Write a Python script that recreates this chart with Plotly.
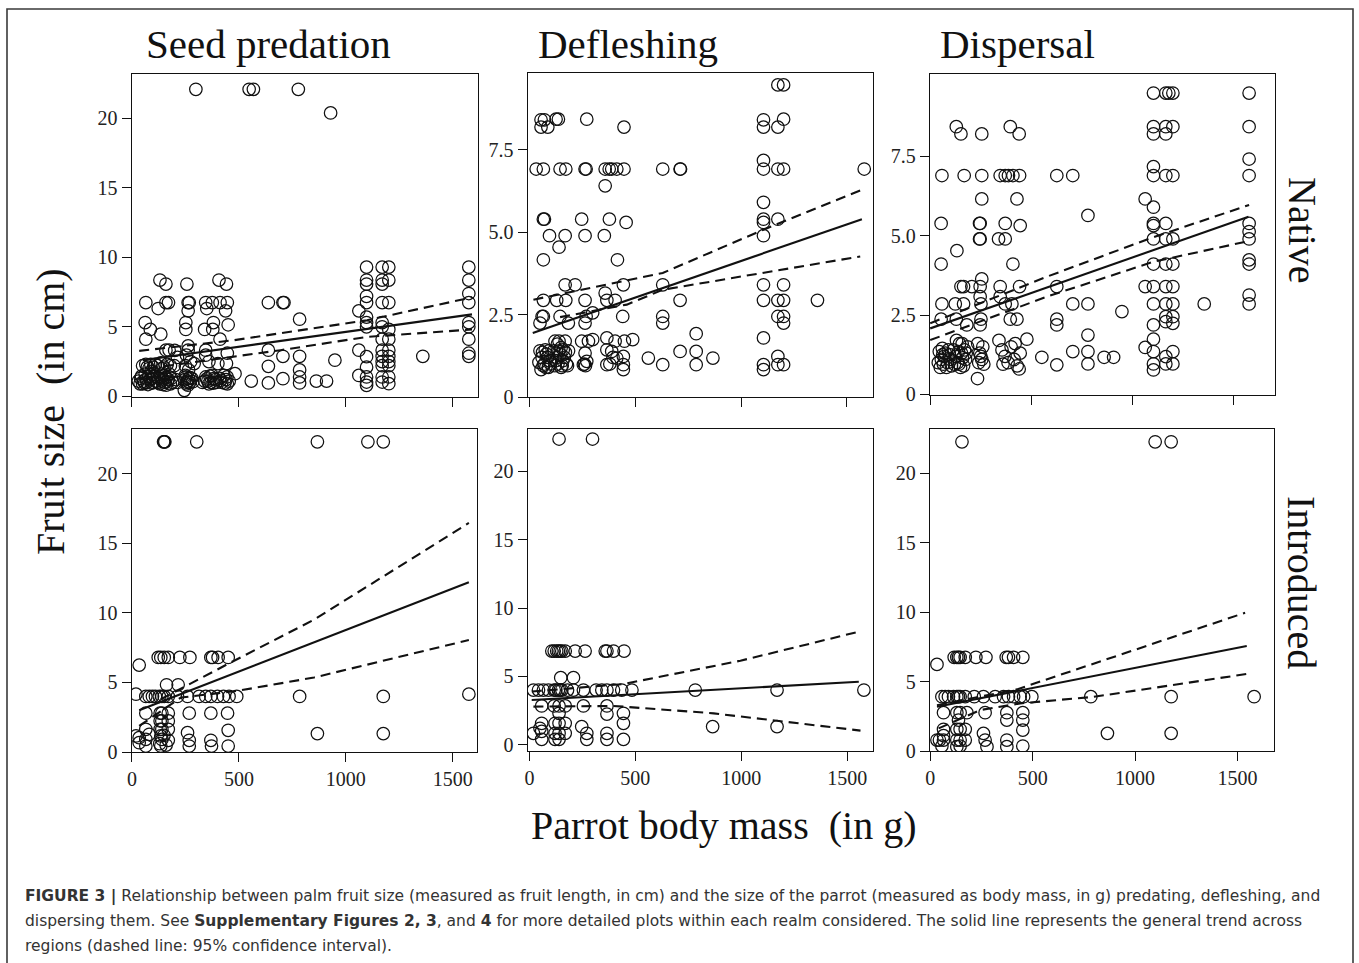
import plotly.graph_objects as go

W, H = 1359, 963

# ---------------- data ----------------
ticks_x = [0, 500, 1000, 1500]
ticks_y_big = [0, 5, 10, 15, 20]
ticks_y_small = [0, 2.5, 5, 7.5]
ticks_y_small_text = ["0", "2.5", "5.0", "7.5"]

col_titles = ["Seed predation", "Defleshing", "Dispersal"]
row_titles = ["Native", "Introduced"]

# Native - seed predation
nat_seed = [
    (299, 22.1), (548, 22.1), (568, 22.1), (778, 22.1), (929, 20.4),
    (65, 6.75), (62, 5.31), (86, 4.81), (65, 4.11),
    (50, 2.2), (65, 2.3), (80, 2.0), (40, 1.3), (55, 1.1), (70, 1.0), (85, 1.2), (50, 0.9), (75, 0.85),
    (95, 1.3), (100, 1.0), (62, 1.6), (90, 1.8), (110, 2.3),
    (30, 1.1), (45, 1.45), (60, 0.95), (78, 1.4), (92, 0.95), (105, 1.45), (115, 1.1), (38, 0.9), (68, 1.25),
    (88, 2.3), (100, 2.1), (72, 2.1),
    (135, 4.47), (123, 6.32), (131, 8.37), (159, 8.08), (159, 6.75), (171, 6.75), (159, 3.32), (174, 3.32),
    (135, 2.4), (150, 2.1), (165, 2.3), (125, 1.3), (140, 1.1), (155, 1.0), (170, 1.2), (180, 0.9), (130, 0.9),
    (150, 1.5), (175, 1.6), (160, 0.8),
    (120, 1.0), (135, 1.4), (145, 0.85), (160, 1.35), (165, 1.05), (185, 1.3), (190, 1.0), (145, 1.25),
    (120, 2.2), (140, 2.0), (180, 2.2),
    (198, 2.2), (205, 1.2), (213, 1.0), (200, 3.3), (213, 2.8),
    (257, 8.08), (263, 6.75), (268, 6.75), (263, 6.15), (252, 5.31), (252, 4.81), (263, 3.63), (263, 3.32),
    (255, 2.96), (291, 2.36), (250, 2.2), (265, 1.9), (252, 1.39), (260, 1.1), (270, 1.0), (255, 0.9),
    (265, 1.27), (245, 0.43), (280, 1.3), (275, 2.5),
    (248, 1.2), (258, 1.0), (272, 1.35), (285, 1.05), (262, 0.8), (250, 1.5),
    (345, 6.75), (376, 6.75), (350, 6.32), (381, 5.31), (378, 4.81), (340, 4.81), (345, 3.32), (345, 2.96),
    (360, 2.5), (345, 1.39), (355, 1.1), (370, 1.0), (385, 1.3), (360, 0.9), (375, 1.5), (390, 1.2), (330, 1.0),
    (350, 1.25), (365, 1.45), (380, 0.95), (395, 1.0), (340, 1.1),
    (407, 8.37), (442, 8.08), (412, 6.75), (446, 6.75), (438, 6.15), (450, 5.15), (412, 4.11), (446, 3.1),
    (442, 2.36), (402, 2.36), (482, 1.63), (410, 1.3), (420, 1.0), (440, 1.2), (446, 0.9), (430, 1.5), (455, 1.1),
    (415, 1.15), (435, 0.95), (445, 1.4),
    (558, 1.1), (638, 6.75), (638, 3.32), (638, 2.16), (638, 0.96), (706, 6.75), (711, 6.75), (706, 2.88),
    (706, 1.27), (784, 5.55), (784, 2.88), (784, 1.9), (784, 1.39), (784, 0.96), (862, 1.1), (910, 1.1), (949, 2.6),
    (1061, 6.15), (1097, 9.3), (1097, 8.37), (1097, 8.08), (1097, 7.2), (1097, 6.75), (1097, 5.7), (1097, 5.31),
    (1097, 5.0), (1061, 3.32), (1097, 2.85), (1097, 2.1), (1097, 1.39), (1061, 1.5), (1097, 1.03), (1097, 0.79),
    (1170, 9.3), (1201, 9.3), (1170, 8.37), (1201, 8.37), (1170, 8.08), (1170, 6.75), (1201, 6.75), (1170, 5.31),
    (1170, 5.0), (1201, 4.81), (1170, 4.11), (1201, 4.11), (1170, 3.32), (1201, 3.32), (1170, 2.88), (1201, 2.88),
    (1170, 2.5), (1201, 2.5), (1170, 2.2), (1201, 2.2), (1170, 1.39), (1201, 1.39), (1170, 1.03), (1201, 0.91),
    (1360, 2.88),
    (1575, 9.3), (1575, 8.37), (1575, 7.4), (1575, 6.75), (1575, 5.31), (1575, 5.0), (1575, 4.11), (1575, 3.1), (1575, 2.88),
]
nat_seed_fit_x, nat_seed_fit_y = [50, 1590], [2.6, 5.9]
nat_seed_up_x, nat_seed_up_y = [34, 478, 1100, 1590], [3.27, 4.04, 5.48, 7.12]
nat_seed_lo_x, nat_seed_lo_y = [73, 695, 1100, 1590], [2.0, 3.32, 4.28, 4.81]

# Native - defleshing
nat_defl = [
    (55, 8.4), (71, 8.4), (55, 8.18), (87, 8.18), (32, 6.91), (66, 6.91), (66, 5.39), (71, 5.39), (66, 4.16),
    (66, 2.93), (60, 2.44), (66, 2.44), (50, 2.24),
    (50, 1.4), (60, 1.2), (70, 1.0), (80, 1.3), (90, 0.9), (55, 0.83), (75, 1.43), (95, 1.1), (65, 0.95), (85, 1.2),
    (45, 1.05), (62, 1.35), (78, 0.9), (92, 1.4), (100, 1.0),
    (126, 8.42), (137, 8.42), (95, 4.89), (140, 4.54), (145, 6.91), (172, 6.91), (169, 4.89), (169, 3.40),
    (216, 3.40), (129, 2.93), (172, 2.93), (145, 2.44), (184, 2.24), (169, 1.69), (121, 1.69), (140, 1.69), (150, 1.5),
    (115, 1.4), (125, 1.1), (135, 1.0), (145, 1.3), (155, 0.95), (165, 1.2), (175, 1.0), (185, 1.4), (130, 1.2),
    (160, 1.43), (150, 0.9),
    (120, 0.95), (140, 1.4), (158, 1.1), (170, 1.35), (180, 0.95), (132, 1.6),
    (271, 8.42), (263, 6.91), (268, 6.91), (247, 5.39), (263, 4.89), (263, 2.93), (268, 2.44), (263, 2.24),
    (299, 2.55), (247, 1.69), (279, 1.69), (299, 1.74), (263, 1.33), (271, 1.08), (255, 0.98), (260, 1.0), (265, 0.95),
    (358, 6.40), (358, 6.91), (377, 6.91), (389, 6.91), (413, 6.91), (378, 5.39), (354, 4.89), (416, 4.16),
    (358, 3.15), (366, 2.93), (405, 2.93), (366, 1.79), (405, 1.69), (366, 1.43), (389, 1.38), (413, 1.18),
    (366, 0.98), (395, 1.2), (380, 1.0),
    (447, 8.18), (447, 6.91), (457, 5.29), (444, 3.40), (441, 2.44), (449, 1.69), (488, 1.74), (444, 1.23),
    (444, 0.98), (444, 0.83),
    (562, 1.18), (630, 6.91), (630, 3.40), (630, 2.44), (630, 2.24), (630, 0.98), (712, 6.91), (714, 6.91),
    (712, 2.93), (712, 1.38), (788, 1.92), (788, 1.38), (788, 0.98), (867, 1.18),
    (1106, 8.40), (1106, 8.18), (1106, 7.17), (1106, 6.91), (1106, 5.9), (1106, 5.39), (1106, 5.29), (1106, 4.89),
    (1106, 3.40), (1106, 2.93), (1106, 1.79), (1106, 0.98), (1106, 0.83),
    (1174, 9.46), (1201, 9.46), (1201, 8.42), (1174, 8.18), (1174, 6.91), (1201, 6.91), (1174, 5.39), (1201, 3.40),
    (1174, 2.93), (1201, 2.93), (1174, 2.44), (1201, 2.44), (1201, 2.24), (1174, 1.23), (1174, 0.98), (1201, 0.98),
    (1361, 2.93), (1582, 6.91),
]
nat_defl_fit_x, nat_defl_fit_y = [16, 1571], [1.94, 5.39]
nat_defl_up_x, nat_defl_up_y = [19, 240, 630, 1106, 1571], [2.95, 3.25, 3.76, 5.07, 6.28]
nat_defl_lo_x, nat_defl_lo_y = [145, 460, 630, 1106, 1563], [2.42, 2.80, 3.25, 3.76, 4.26]

# Native - dispersal
nat_disp = [
    (58, 6.90), (54, 5.39), (54, 4.11), (58, 2.85), (54, 2.37),
    (45, 1.35), (55, 1.1), (65, 0.95), (75, 1.3), (85, 1.0), (50, 0.85), (70, 1.2), (90, 1.4), (100, 1.1), (60, 1.45),
    (40, 1.0), (62, 1.25), (80, 0.85), (95, 1.25), (105, 0.9),
    (129, 8.44), (152, 8.21), (168, 6.90), (132, 4.53), (152, 3.40), (165, 3.40), (124, 2.85), (165, 2.85),
    (129, 2.37), (181, 2.19),
    (115, 1.4), (125, 1.2), (135, 1.0), (145, 1.6), (155, 1.3), (165, 0.9), (175, 1.1), (185, 1.5), (130, 1.7),
    (150, 0.85), (170, 1.4), (120, 0.95),
    (140, 1.35), (160, 1.15), (178, 1.3), (142, 0.95), (158, 1.6),
    (255, 8.21), (255, 6.90), (255, 6.16), (244, 5.39), (247, 5.39), (244, 4.90), (247, 4.90), (255, 3.64),
    (247, 3.40), (206, 3.40), (247, 3.08), (251, 2.85), (251, 2.37), (247, 2.19), (234, 0.50),
    (235, 1.6), (245, 1.3), (255, 1.1), (265, 0.95), (240, 1.0), (260, 1.5), (250, 1.2),
    (396, 8.44), (440, 8.21), (346, 6.90), (371, 6.90), (387, 6.90), (409, 6.90), (442, 6.90), (429, 6.16),
    (371, 5.39), (445, 5.32), (338, 4.90), (371, 4.90), (409, 4.11), (346, 3.40), (442, 3.40), (346, 3.08),
    (371, 2.85), (404, 2.85), (396, 2.37), (429, 2.37), (478, 1.74),
    (340, 1.7), (355, 1.4), (370, 1.2), (385, 1.0), (400, 1.5), (415, 1.1), (430, 0.9), (445, 1.3), (360, 0.95),
    (420, 1.6), (440, 0.8),
    (552, 1.17), (626, 6.90), (705, 6.90), (626, 3.40), (626, 2.37), (626, 2.19), (626, 0.93), (780, 5.64),
    (705, 2.85), (780, 2.85), (705, 1.35), (780, 1.87), (780, 1.35), (780, 0.96), (860, 1.17), (907, 1.17), (948, 2.61),
    (1104, 9.5), (1104, 8.44), (1104, 8.21), (1104, 7.18), (1104, 6.90), (1063, 6.16), (1104, 5.9), (1104, 5.39),
    (1104, 5.32), (1104, 4.90), (1104, 4.11), (1063, 3.40), (1104, 3.40), (1104, 2.85), (1104, 2.19), (1104, 1.74),
    (1063, 1.48), (1104, 1.35), (1104, 0.96), (1104, 0.77),
    (1165, 9.5), (1200, 9.5), (1180, 9.5), (1165, 8.44), (1200, 8.44), (1165, 8.21), (1165, 6.90), (1200, 6.90),
    (1165, 5.39), (1165, 4.90), (1200, 4.90), (1165, 4.11), (1200, 4.11), (1165, 3.40), (1200, 3.40), (1165, 2.85),
    (1200, 2.85), (1165, 2.45), (1200, 2.45), (1165, 2.29), (1200, 2.24), (1165, 1.19), (1200, 1.35), (1165, 0.96),
    (1200, 0.96),
    (1355, 2.85),
    (1577, 9.5), (1577, 8.44), (1577, 7.42), (1577, 6.90), (1577, 5.39), (1577, 5.13), (1577, 4.90), (1577, 4.24),
    (1577, 4.11), (1577, 3.13), (1577, 2.85),
]
nat_disp_fit_x, nat_disp_fit_y = [0, 1574], [2.08, 5.60]
nat_disp_up_x, nat_disp_up_y = [0, 577, 1088, 1577], [2.24, 3.71, 4.92, 5.97]
nat_disp_lo_x, nat_disp_lo_y = [0, 577, 1104, 1566], [1.71, 3.08, 4.18, 4.82]

# Introduced - seed predation
int_seed = [
    (148, 22.28), (151, 22.28), (154, 22.28), (303, 22.28), (867, 22.28), (1103, 22.28), (1175, 22.28),
    (34, 6.24), (123, 6.79), (135, 6.79), (151, 6.79), (170, 6.79), (224, 6.79), (271, 6.79), (369, 6.79),
    (377, 6.79), (403, 6.79), (450, 6.79),
    (162, 4.83), (216, 4.83),
    (19, 4.15), (65, 3.99), (81, 3.99), (96, 3.99), (128, 3.99), (151, 3.99), (170, 3.99), (213, 3.99), (260, 3.99),
    (314, 3.99), (345, 3.99), (369, 3.99), (400, 3.99), (428, 3.99), (454, 3.99), (490, 3.99), (140, 3.99), (110, 3.99),
    (784, 3.99), (1175, 3.99), (1575, 4.15),
    (65, 2.79), (132, 2.79), (170, 2.79), (268, 2.79), (369, 2.79), (447, 2.79), (140, 2.79),
    (132, 2.23), (170, 2.23), (140, 2.23),
    (132, 1.63), (170, 1.63), (65, 1.63), (450, 1.56), (140, 1.63),
    (260, 1.39),
    (135, 1.15), (170, 0.84), (34, 1.03), (65, 0.91), (81, 1.27), (19, 1.15), (34, 0.67), (140, 0.9), (150, 1.2),
    (135, 0.43), (268, 0.84), (268, 0.43), (369, 0.84), (372, 0.43), (450, 0.43), (65, 0.43), (130, 0.6), (160, 0.5),
    (867, 1.32), (1175, 1.32),
]
int_seed_fit_x, int_seed_fit_y = [34, 1575], [3.0, 12.2]
int_seed_up_x, int_seed_up_y = [135, 447, 851, 1575], [3.79, 6.31, 9.5, 16.45]
int_seed_lo_x, int_seed_lo_y = [34, 229, 493, 851, 1575], [1.87, 3.91, 4.39, 5.35, 8.04]

# Introduced - defleshing
int_defl = [
    (140, 22.34), (298, 22.34),
    (106, 6.86), (117, 6.86), (129, 6.86), (145, 6.86), (169, 6.86), (216, 6.86), (263, 6.86), (358, 6.86),
    (366, 6.86), (397, 6.86), (447, 6.86), (137, 6.86), (153, 6.86),
    (148, 4.91), (208, 4.91),
    (19, 4.01), (43, 4.01), (66, 4.01), (90, 4.01), (117, 4.01), (137, 4.01), (153, 4.01), (180, 4.01), (208, 4.01),
    (255, 4.01), (315, 4.01), (342, 4.01), (366, 4.01), (397, 4.01), (436, 4.01), (484, 4.01), (125, 4.01), (145, 4.01),
    (783, 4.01), (1169, 4.01), (1579, 4.01),
    (58, 2.85), (117, 2.85), (169, 2.85), (255, 2.85), (366, 2.85), (140, 2.85),
    (140, 2.31), (366, 2.26), (444, 2.31),
    (58, 1.58), (121, 1.58), (169, 1.58), (444, 1.58), (140, 1.58),
    (247, 1.34), (50, 1.22),
    (19, 0.85), (121, 0.85), (169, 0.85), (271, 0.85), (366, 0.85), (140, 0.85), (58, 1.0),
    (58, 0.41), (121, 0.41), (271, 0.41), (366, 0.41), (444, 0.41), (140, 0.41),
    (865, 1.34), (1169, 1.34),
]
int_defl_fit_x, int_defl_fit_y = [11, 1555], [3.28, 4.62]
int_defl_up_x, int_defl_up_y = [11, 444, 996, 1555], [3.9, 4.45, 6.15, 8.27]
int_defl_lo_x, int_defl_lo_y = [19, 397, 870, 1563], [2.8, 2.85, 2.31, 1.05]

# Introduced - dispersal
int_disp = [
    (155, 22.28), (1098, 22.28), (1176, 22.28),
    (33, 6.24), (117, 6.75), (130, 6.75), (146, 6.75), (171, 6.75), (223, 6.75), (272, 6.75), (371, 6.75),
    (382, 6.75), (407, 6.75), (452, 6.75), (138, 6.75),
    (57, 3.91), (73, 3.91), (89, 3.91), (114, 3.91), (130, 3.91), (146, 3.91), (171, 3.91), (215, 3.91), (260, 3.91),
    (317, 3.91), (358, 3.91), (382, 3.91), (407, 3.91), (439, 3.91), (456, 3.91), (496, 3.91), (138, 3.91),
    (784, 3.91), (1176, 3.91), (1581, 3.91),
    (65, 2.76), (130, 2.76), (179, 2.76), (268, 2.76), (374, 2.76), (452, 2.76), (146, 2.76),
    (374, 2.23), (452, 2.23), (138, 2.23),
    (65, 1.56), (130, 1.56), (171, 1.56), (452, 1.51), (146, 1.56),
    (260, 1.27), (65, 1.1),
    (33, 0.79), (65, 0.79), (130, 0.79), (171, 0.79), (268, 0.79), (374, 0.79), (45, 0.79), (146, 0.79),
    (57, 0.36), (130, 0.31), (277, 0.31), (374, 0.31), (452, 0.36), (146, 0.36),
    (865, 1.27), (1176, 1.27),
]
int_disp_fit_x, int_disp_fit_y = [33, 1545], [3.19, 7.56]
int_disp_up_x, int_disp_up_y = [33, 423, 797, 1537], [3.3, 4.44, 6.29, 9.96]
int_disp_lo_x, int_disp_lo_y = [41, 244, 439, 797, 1545], [1.63, 2.95, 3.43, 3.9, 5.55]

caption_lines = [
    "<b>FIGURE 3 |</b> Relationship between palm fruit size (measured as fruit length, in cm) and the size of the parrot (measured as body mass, in g) predating, defleshing, and",
    "dispersing them. See <b>Supplementary Figures 2, 3</b>, and <b>4</b> for more detailed plots within each realm considered. The solid line represents the general trend across",
    "regions (dashed line: 95% confidence interval).",
]

# ---------------- layout geometry (pixels) ----------------
frames = [  # x0, x1, y0(top), y1(bottom)
    (131.7, 478, 74, 397), (527.7, 872.7, 73, 397), (930, 1275, 74, 395),
    (131.7, 477, 429, 752), (527.7, 873, 429, 751), (930, 1274, 429, 751),
]
xranges = [[-1, 1618], [-8, 1622], [-1, 1705], [-1, 1613], [-8, 1622], [-1, 1678]]
yranges = [[-0.05, 23.2], [0.0, 9.82], [-0.02, 10.1], [0, 23.2], [-0.44, 23.07], [0, 23.2]]

panels = [
    (nat_seed, (nat_seed_fit_x, nat_seed_fit_y), (nat_seed_up_x, nat_seed_up_y), (nat_seed_lo_x, nat_seed_lo_y)),
    (nat_defl, (nat_defl_fit_x, nat_defl_fit_y), (nat_defl_up_x, nat_defl_up_y), (nat_defl_lo_x, nat_defl_lo_y)),
    (nat_disp, (nat_disp_fit_x, nat_disp_fit_y), (nat_disp_up_x, nat_disp_up_y), (nat_disp_lo_x, nat_disp_lo_y)),
    (int_seed, (int_seed_fit_x, int_seed_fit_y), (int_seed_up_x, int_seed_up_y), (int_seed_lo_x, int_seed_lo_y)),
    (int_defl, (int_defl_fit_x, int_defl_fit_y), (int_defl_up_x, int_defl_up_y), (int_defl_lo_x, int_defl_lo_y)),
    (int_disp, (int_disp_fit_x, int_disp_fit_y), (int_disp_up_x, int_disp_up_y), (int_disp_lo_x, int_disp_lo_y)),
]


def px(x):
    return x / W


def py(y):
    return 1 - y / H


SERIF = "Liberation Serif, Times New Roman, serif"
INK = "#111111"

fig = go.Figure()
layout = {}
for i, (pts, fit, up, lo) in enumerate(panels):
    n = i + 1
    xa = "x" if n == 1 else f"x{n}"
    ya = "y" if n == 1 else f"y{n}"
    fig.add_trace(go.Scatter(
        x=[p[0] for p in pts], y=[p[1] for p in pts], mode="markers", xaxis=xa, yaxis=ya,
        marker=dict(symbol="circle-open", size=12.5, color=INK, line=dict(width=1.25)),
        showlegend=False, hoverinfo="skip"))
    for (lx, ly), dash in ((fit, "solid"), (up, "10px,6px"), (lo, "10px,6px")):
        fig.add_trace(go.Scatter(
            x=lx, y=ly, mode="lines", xaxis=xa, yaxis=ya,
            line=dict(color=INK, width=2.1, dash=dash), showlegend=False, hoverinfo="skip"))
    x0, x1, t, b = frames[i]
    axcommon = dict(showline=True, mirror=True, linecolor=INK, linewidth=1.3, ticks="outside",
                    ticklen=9, tickwidth=1.2, tickcolor=INK, showgrid=False, zeroline=False,
                    automargin=False, tickfont=dict(family=SERIF, size=20, color="#222222"))
    layout["xaxis" if n == 1 else f"xaxis{n}"] = dict(
        domain=[px(x0), px(x1)], range=xranges[i], anchor=ya, tickvals=ticks_x,
        showticklabels=(n >= 4), **axcommon)
    if n in (2, 3):
        ytk = dict(tickvals=ticks_y_small, ticktext=ticks_y_small_text)
    else:
        ytk = dict(tickvals=ticks_y_big)
    layout["yaxis" if n == 1 else f"yaxis{n}"] = dict(
        domain=[py(b), py(t)], range=yranges[i], anchor=xa, **ytk, **axcommon)

ann = []
for name, cx in zip(col_titles, [268, 628, 1017]):
    ann.append(dict(text=name, x=px(cx), y=py(44), xref="paper", yref="paper", showarrow=False,
                    xanchor="center", yanchor="middle", font=dict(family=SERIF, size=41, color=INK)))
for name, cy in zip(row_titles, [230, 582]):
    ann.append(dict(text=name, x=px(1302), y=py(cy), xref="paper", yref="paper", showarrow=False,
                    textangle=90, xanchor="center", yanchor="middle",
                    font=dict(family=SERIF, size=40, color=INK)))
ann.append(dict(text="Fruit size\u00a0\u00a0(in cm)", x=px(50), y=py(412), xref="paper", yref="paper",
                showarrow=False, textangle=-90, xanchor="center", yanchor="middle",
                font=dict(family=SERIF, size=40, color=INK)))
ann.append(dict(text="Parrot body mass\u00a0\u00a0(in g)", x=px(724), y=py(825), xref="paper", yref="paper",
                showarrow=False, xanchor="center", yanchor="middle",
                font=dict(family=SERIF, size=40, color=INK)))
for line, cy in zip(caption_lines, [896, 921, 946]):
    ann.append(dict(text=line, x=px(23), y=py(cy), xref="paper", yref="paper", showarrow=False,
                    xanchor="left", yanchor="middle",
                    font=dict(family="DejaVu Sans, sans-serif", size=15.5, color="#333333")))

shapes = [dict(type="rect", xref="paper", yref="paper", x0=px(7), x1=px(1353), y0=py(990), y1=py(9),
               line=dict(color="#3a3a3a", width=1.6), fillcolor="rgba(0,0,0,0)", layer="above")]

fig.update_layout(width=W, height=H, margin=dict(l=0, r=0, t=0, b=0, pad=0, autoexpand=False),
                  paper_bgcolor="white", plot_bgcolor="white", annotations=ann, shapes=shapes, **layout)
fig.write_html("out.html")
